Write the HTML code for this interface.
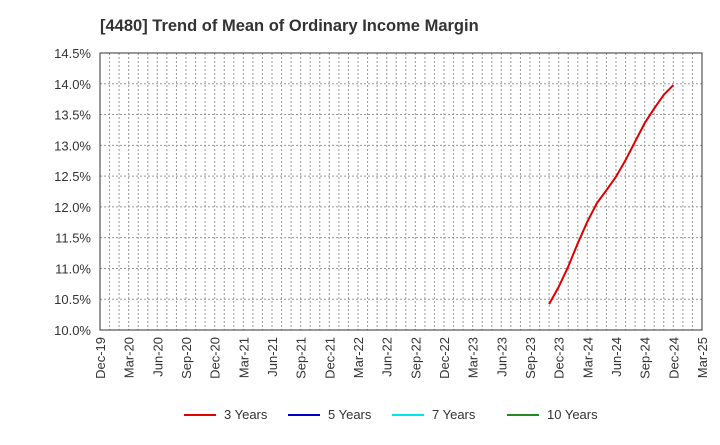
<!DOCTYPE html>
<html><head><meta charset="utf-8"><style>
body{margin:0;background:#fff;font-family:"Liberation Sans",Arial,sans-serif}
</style></head><body>
<svg id="chart" width="720" height="440" xmlns="http://www.w3.org/2000/svg" font-family="Liberation Sans, Arial, sans-serif">
<text x="100" y="31" font-size="16.5" font-weight="bold" fill="#333">[4480]  Trend of Mean of Ordinary Income Margin</text>
<g id="grid"></g>
<g id="axes"></g>
<g id="series"></g>
<g id="legend"></g>
</svg>
<script>
const yTicks=[10.0,10.5,11.0,11.5,12.0,12.5,13.0,13.5,14.0,14.5];
const xTickLabels=["Dec-19","Mar-20","Jun-20","Sep-20","Dec-20","Mar-21","Jun-21","Sep-21","Dec-21","Mar-22","Jun-22","Sep-22","Dec-22","Mar-23","Jun-23","Sep-23","Dec-23","Mar-24","Jun-24","Sep-24","Dec-24","Mar-25"];
// month index from Dec-19
const s3Months=[47,48,49,50,51,52,53,54,55,56,57,58,59,60];
const s3Values=[10.42,10.70,11.03,11.41,11.76,12.06,12.27,12.49,12.76,13.06,13.36,13.60,13.82,13.98];
const legendNames=["3 Years","5 Years","7 Years","10 Years"];
const legendColors=["#e00000","#0000cc","#00e5ee","#228b22"];
const NS="http://www.w3.org/2000/svg";
const L=100,R=702,T=53,B=330;
const xs=m=>L+(R-L)*m/63;
const ys=v=>B-(v-10)/4.5*(B-T);
function mk(tag,attrs,parent){const e=document.createElementNS(NS,tag);for(const k in attrs)e.setAttribute(k,attrs[k]);parent.appendChild(e);return e;}
const grid=document.getElementById('grid'),axes=document.getElementById('axes'),series=document.getElementById('series'),legend=document.getElementById('legend');
for(let m=1;m<63;m++){const l=mk('line',{x1:xs(m),x2:xs(m),y1:T,y2:B,stroke:'#999','stroke-dasharray':'2,2','stroke-width':1},grid);

}
yTicks.forEach(v=>{if(v>10){const l=mk('line',{x1:L,x2:R,y1:ys(v),y2:ys(v),stroke:'#999','stroke-dasharray':'2,2','stroke-width':1},grid);

}
const t=mk('text',{x:L-9,y:ys(v)+5,'text-anchor':'end','font-size':13,fill:'#333'},axes);t.textContent=v.toFixed(1)+'%';

});
const fr=mk('rect',{x:L,y:T,width:R-L,height:B-T,fill:'none',stroke:'#333','stroke-width':1},axes);


xTickLabels.forEach((s,i)=>{const x=xs(i*3);const t=mk('text',{x:0,y:0,transform:`translate(${x+5},${B+7}) rotate(-90)`,'text-anchor':'end','font-size':13,fill:'#333'},axes);t.textContent=s;

});
const p=mk('polyline',{points:s3Months.map((m,i)=>xs(m)+','+ys(s3Values[i])).join(' '),fill:'none',stroke:'#e00000','stroke-width':2},series);


const lx=[184,288,392,507];
legendNames.forEach((n,i)=>{const g=mk('g',{},legend);


mk('line',{x1:lx[i],x2:lx[i]+32,y1:415,y2:415,stroke:legendColors[i],'stroke-width':2},g);
const t=mk('text',{x:lx[i]+40,y:419,'font-size':13,fill:'#333'},g);t.textContent=n;});
</script>
</body></html>
